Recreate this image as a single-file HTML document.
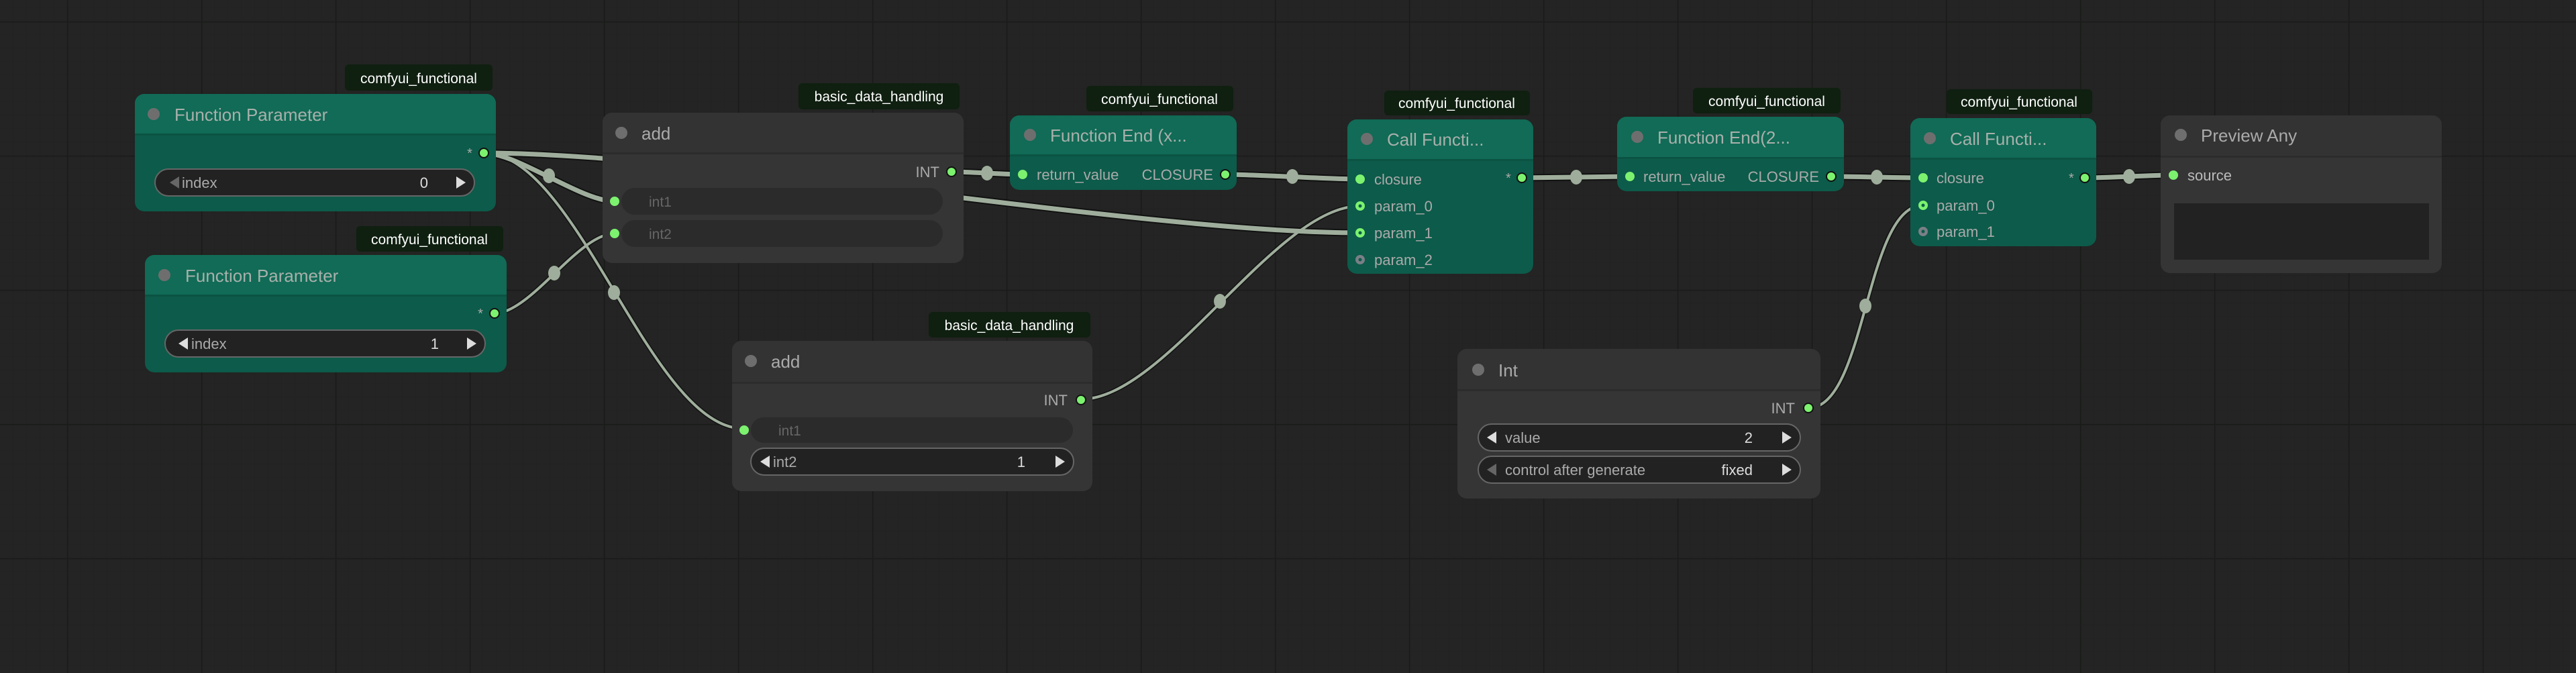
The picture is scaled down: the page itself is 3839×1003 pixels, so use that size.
<!DOCTYPE html>
<html><head><meta charset="utf-8"><style>
html,body{margin:0;padding:0;background:#222322;}
svg{display:block}
text{font-family:"Liberation Sans",sans-serif;}
</style></head><body>
<svg width="3839" height="1003" viewBox="0 0 3839 1003" xmlns="http://www.w3.org/2000/svg">
<defs>
<pattern id="minor" x="0" y="12" width="20" height="20" patternUnits="userSpaceOnUse">
<path d="M20 0V20M0 20H20" stroke="#1f201f" stroke-width="1" fill="none"/>
</pattern>
<pattern id="major" x="100" y="32" width="200" height="200" patternUnits="userSpaceOnUse">
<path d="M0 0V200M0 0H200" stroke="#1a1b1a" stroke-width="3" fill="none"/>
</pattern>
</defs>
<rect width="3839" height="1003" fill="#232423"/>
<rect width="3839" height="1003" fill="url(#minor)"/>
<rect width="3839" height="1003" fill="url(#major)"/>

<!-- links -->
<g fill="none" stroke-linecap="round">
<g stroke="#111" stroke-width="11">
<path d="M721 228 C771 228 866 300 916 300"/>
<path d="M721 228 C1049 228 1699 347 2027 347"/>
<path d="M1418 256 C1444 256 1498 260 1524 260"/>
<path d="M1826 260 C1876 260 1977 267 2027 267"/>
<path d="M2268 265 C2308 265 2389 263 2429 263"/>
<path d="M2729 263 C2769 263 2826 265 2866 265"/>
<path d="M3107 265 C3147 265 3199 261 3239 261"/>
</g>
<g stroke="#111" stroke-width="7">
<path d="M721 228 C862 228 968 639 1109 639"/>
<path d="M737 467 C791 467 862 348 916 348"/>
<path d="M1611 595 C1737 595 1901 307 2027 307"/>
<path d="M2695 608 C2782 608 2779 306 2866 306"/>
</g>
<g stroke="#9fae9c" stroke-width="7">
<path d="M721 228 C771 228 866 300 916 300"/>
<path d="M721 228 C1049 228 1699 347 2027 347"/>
<path d="M1418 256 C1444 256 1498 260 1524 260"/>
<path d="M1826 260 C1876 260 1977 267 2027 267"/>
<path d="M2268 265 C2308 265 2389 263 2429 263"/>
<path d="M2729 263 C2769 263 2826 265 2866 265"/>
<path d="M3107 265 C3147 265 3199 261 3239 261"/>
</g>
<g stroke="#9fae9c" stroke-width="4">
<path d="M721 228 C862 228 968 639 1109 639"/>
<path d="M737 467 C791 467 862 348 916 348"/>
<path d="M1611 595 C1737 595 1901 307 2027 307"/>
<path d="M2695 608 C2782 608 2779 306 2866 306"/>
</g>
</g>
<g fill="#9fae9c">
<ellipse cx="818" cy="262" rx="9" ry="11"/>
<ellipse cx="915" cy="436" rx="9" ry="11"/>
<ellipse cx="1374" cy="287" rx="9" ry="11"/>
<ellipse cx="826" cy="407" rx="9" ry="11"/>
<ellipse cx="1471" cy="258" rx="9" ry="11"/>
<ellipse cx="1818" cy="449" rx="9" ry="11"/>
<ellipse cx="1926" cy="263" rx="9" ry="11"/>
<ellipse cx="2349" cy="264" rx="9" ry="11"/>
<ellipse cx="2797" cy="264" rx="9" ry="11"/>
<ellipse cx="2780" cy="456" rx="9" ry="11"/>
<ellipse cx="3173" cy="263" rx="9" ry="11"/>
</g>

<!-- Function Parameter A -->
<rect x="514" y="96" width="220" height="39" rx="6" fill="#0f1f10"/>
<text x="624" y="124" font-size="21" fill="#fff" text-anchor="middle">comfyui_functional</text>
<rect x="201" y="140" width="538" height="175" rx="14" fill="#0d5b4a"/>
<path d="M201 200V154a14 14 0 0 1 14-14h510a14 14 0 0 1 14 14V200Z" fill="#116b56"/>
<rect x="201" y="199" width="538" height="3" fill="#0b5343"/>
<circle cx="229" cy="170" r="9" fill="#6e6e6e"/>
<text x="260" y="180" font-size="26" fill="#a8b0ab">Function Parameter</text>
<text x="700" y="235" font-size="20" fill="#aaa" text-anchor="middle">*</text>
<circle cx="721" cy="228" r="7" fill="#7cf26f" stroke="#111" stroke-width="2"/>
<rect x="231" y="252" width="476" height="40" rx="20" fill="#222" stroke="#666" stroke-width="2"/>
<path d="M253 272l14-9v18z" fill="#666"/>
<text x="271" y="280" font-size="22" fill="#aaa">index</text>
<text x="638" y="280" font-size="22" fill="#ddd" text-anchor="end">0</text>
<path d="M694 272l-14-9v18z" fill="#ddd"/>

<!-- Function Parameter B -->
<rect x="531" y="337" width="219" height="38" rx="6" fill="#0f1f10"/>
<text x="640" y="364" font-size="21" fill="#fff" text-anchor="middle">comfyui_functional</text>
<rect x="216" y="380" width="539" height="175" rx="14" fill="#0d5b4a"/>
<path d="M216 440V394a14 14 0 0 1 14-14h511a14 14 0 0 1 14 14V440Z" fill="#116b56"/>
<rect x="216" y="439" width="539" height="3" fill="#0b5343"/>
<circle cx="245" cy="410" r="9" fill="#6e6e6e"/>
<text x="276" y="420" font-size="26" fill="#a8b0ab">Function Parameter</text>
<text x="716" y="474" font-size="20" fill="#aaa" text-anchor="middle">*</text>
<circle cx="737" cy="467" r="7" fill="#7cf26f" stroke="#111" stroke-width="2"/>
<rect x="246" y="492" width="477" height="40" rx="20" fill="#222" stroke="#666" stroke-width="2"/>
<path d="M266 512l14-9v18z" fill="#ddd"/>
<text x="285" y="520" font-size="22" fill="#aaa">index</text>
<text x="654" y="520" font-size="22" fill="#ddd" text-anchor="end">1</text>
<path d="M710 512l-14-9v18z" fill="#ddd"/>

<!-- add 1 -->
<rect x="1190" y="124" width="240" height="39" rx="6" fill="#0f1f10"/>
<text x="1310" y="151" font-size="21" fill="#fff" text-anchor="middle">basic_data_handling</text>
<rect x="898" y="168" width="538" height="224" rx="14" fill="#353535"/>
<path d="M898 228V182a14 14 0 0 1 14-14h510a14 14 0 0 1 14 14V228Z" fill="#333"/>
<rect x="898" y="227" width="538" height="3" fill="#2c2c2c"/>
<circle cx="926" cy="198" r="9" fill="#6e6e6e"/>
<text x="956" y="208" font-size="26" fill="#aaa">add</text>
<text x="1400" y="264" font-size="22" fill="#aaa" text-anchor="end">INT</text>
<circle cx="1418" cy="256" r="7" fill="#7cf26f" stroke="#111" stroke-width="2"/>
<rect x="926" y="280" width="479" height="40" rx="20" fill="#2b2b2b"/>
<rect x="926" y="328" width="479" height="40" rx="20" fill="#2b2b2b"/>
<circle cx="916" cy="300" r="7" fill="#7cf26f"/>
<circle cx="916" cy="348" r="7" fill="#7cf26f"/>
<text x="967" y="308" font-size="21" fill="#666">int1</text>
<text x="967" y="356" font-size="21" fill="#666">int2</text>

<!-- add 2 -->
<rect x="1384" y="465" width="241" height="38" rx="6" fill="#0f1f10"/>
<text x="1504" y="492" font-size="21" fill="#fff" text-anchor="middle">basic_data_handling</text>
<rect x="1091" y="508" width="537" height="224" rx="14" fill="#353535"/>
<path d="M1091 570V522a14 14 0 0 1 14-14h509a14 14 0 0 1 14 14V570Z" fill="#333"/>
<rect x="1091" y="569" width="537" height="3" fill="#2c2c2c"/>
<circle cx="1119" cy="538" r="9" fill="#6e6e6e"/>
<text x="1149" y="548" font-size="26" fill="#aaa">add</text>
<text x="1591" y="604" font-size="22" fill="#aaa" text-anchor="end">INT</text>
<circle cx="1611" cy="596" r="7" fill="#7cf26f" stroke="#111" stroke-width="2"/>
<rect x="1119" y="622" width="480" height="38" rx="19" fill="#2b2b2b"/>
<circle cx="1109" cy="641" r="7" fill="#7cf26f"/>
<text x="1160" y="649" font-size="21" fill="#666">int1</text>
<rect x="1119" y="668" width="481" height="40" rx="20" fill="#222" stroke="#666" stroke-width="2"/>
<path d="M1133 688l14-9v18z" fill="#ddd"/>
<text x="1152" y="696" font-size="22" fill="#aaa">int2</text>
<text x="1528" y="696" font-size="22" fill="#ddd" text-anchor="end">1</text>
<path d="M1587 688l-14-9v18z" fill="#ddd"/>

<!-- Function End (x... -->
<rect x="1619" y="128" width="219" height="38" rx="6" fill="#0f1f10"/>
<text x="1728" y="155" font-size="21" fill="#fff" text-anchor="middle">comfyui_functional</text>
<rect x="1505" y="172" width="338" height="111" rx="14" fill="#0d5b4a"/>
<path d="M1505 231V186a14 14 0 0 1 14-14h310a14 14 0 0 1 14 14V231Z" fill="#116b56"/>
<rect x="1505" y="230" width="338" height="3" fill="#0b5343"/>
<circle cx="1535" cy="201" r="9" fill="#6e6e6e"/>
<text x="1565" y="211" font-size="26" fill="#a8b0ab">Function End (x...</text>
<circle cx="1524" cy="260" r="7" fill="#7cf26f"/>
<text x="1545" y="268" font-size="22" fill="#aaa">return_value</text>
<text x="1808" y="268" font-size="22" fill="#aaa" text-anchor="end">CLOSURE</text>
<circle cx="1826" cy="260" r="7" fill="#7cf26f" stroke="#111" stroke-width="2"/>

<!-- Call Functi 1 -->
<rect x="2063" y="135" width="217" height="37" rx="6" fill="#0f1f10"/>
<text x="2171" y="161" font-size="21" fill="#fff" text-anchor="middle">comfyui_functional</text>
<rect x="2008" y="178" width="277" height="230" rx="14" fill="#0d5b4a"/>
<path d="M2008 238V192a14 14 0 0 1 14-14h249a14 14 0 0 1 14 14V238Z" fill="#116b56"/>
<rect x="2008" y="237" width="277" height="3" fill="#0b5343"/>
<circle cx="2037" cy="207" r="9" fill="#6e6e6e"/>
<text x="2067" y="217" font-size="26" fill="#a8b0ab">Call Functi...</text>
<circle cx="2027" cy="267" r="7" fill="#7cf26f"/>
<circle cx="2027" cy="307" r="7" fill="#7cf26f"/><circle cx="2027" cy="307" r="2.5" fill="#0d5b4a"/>
<circle cx="2027" cy="347" r="7" fill="#7cf26f"/><circle cx="2027" cy="347" r="2.5" fill="#0d5b4a"/>
<circle cx="2027" cy="387" r="7" fill="#7a7f86"/><circle cx="2027" cy="387" r="2.5" fill="#0d5b4a"/>
<text x="2048" y="275" font-size="22" fill="#aaa">closure</text>
<text x="2048" y="315" font-size="22" fill="#aaa">param_0</text>
<text x="2048" y="355" font-size="22" fill="#aaa">param_1</text>
<text x="2048" y="395" font-size="22" fill="#aaa">param_2</text>
<text x="2244" y="272" font-size="20" fill="#aaa">*</text>
<circle cx="2268" cy="265" r="7" fill="#7cf26f" stroke="#111" stroke-width="2"/>

<!-- Function End(2... -->
<rect x="2523" y="131" width="220" height="38" rx="6" fill="#0f1f10"/>
<text x="2633" y="158" font-size="21" fill="#fff" text-anchor="middle">comfyui_functional</text>
<rect x="2410" y="174" width="338" height="111" rx="14" fill="#0d5b4a"/>
<path d="M2410 235V188a14 14 0 0 1 14-14h310a14 14 0 0 1 14 14V235Z" fill="#116b56"/>
<rect x="2410" y="234" width="338" height="3" fill="#0b5343"/>
<circle cx="2440" cy="204" r="9" fill="#6e6e6e"/>
<text x="2470" y="214" font-size="26" fill="#a8b0ab">Function End(2...</text>
<circle cx="2429" cy="263" r="7" fill="#7cf26f"/>
<text x="2449" y="271" font-size="22" fill="#aaa">return_value</text>
<text x="2711" y="271" font-size="22" fill="#aaa" text-anchor="end">CLOSURE</text>
<circle cx="2729" cy="263" r="7" fill="#7cf26f" stroke="#111" stroke-width="2"/>

<!-- Call Functi 2 -->
<rect x="2901" y="133" width="217" height="37" rx="6" fill="#0f1f10"/>
<text x="3009" y="159" font-size="21" fill="#fff" text-anchor="middle">comfyui_functional</text>
<rect x="2847" y="176" width="277" height="191" rx="14" fill="#0d5b4a"/>
<path d="M2847 236V190a14 14 0 0 1 14-14h249a14 14 0 0 1 14 14V236Z" fill="#116b56"/>
<rect x="2847" y="235" width="277" height="3" fill="#0b5343"/>
<circle cx="2876" cy="206" r="9" fill="#6e6e6e"/>
<text x="2906" y="216" font-size="26" fill="#a8b0ab">Call Functi...</text>
<circle cx="2866" cy="265" r="7" fill="#7cf26f"/>
<circle cx="2866" cy="306" r="7" fill="#7cf26f"/><circle cx="2866" cy="306" r="2.5" fill="#0d5b4a"/>
<circle cx="2866" cy="345" r="7" fill="#7a7f86"/><circle cx="2866" cy="345" r="2.5" fill="#0d5b4a"/>
<text x="2886" y="273" font-size="22" fill="#aaa">closure</text>
<text x="2886" y="314" font-size="22" fill="#aaa">param_0</text>
<text x="2886" y="353" font-size="22" fill="#aaa">param_1</text>
<text x="3083" y="272" font-size="20" fill="#aaa">*</text>
<circle cx="3107" cy="265" r="7" fill="#7cf26f" stroke="#111" stroke-width="2"/>

<!-- Preview Any -->
<rect x="3220" y="172" width="419" height="235" rx="14" fill="#353535"/>
<path d="M3220 233V186a14 14 0 0 1 14-14h391a14 14 0 0 1 14 14V233Z" fill="#333"/>
<rect x="3220" y="232" width="419" height="3" fill="#2c2c2c"/>
<circle cx="3250" cy="201" r="9" fill="#6e6e6e"/>
<text x="3280" y="211" font-size="26" fill="#aaa">Preview Any</text>
<circle cx="3239" cy="261" r="7" fill="#7cf26f"/>
<text x="3260" y="269" font-size="22" fill="#bbb">source</text>
<rect x="3240" y="303" width="380" height="84" fill="#222"/>

<!-- Int -->
<rect x="2172" y="520" width="541" height="223" rx="14" fill="#353535"/>
<path d="M2172 581V534a14 14 0 0 1 14-14h513a14 14 0 0 1 14 14V581Z" fill="#333"/>
<rect x="2172" y="580" width="541" height="3" fill="#2c2c2c"/>
<circle cx="2203" cy="551" r="9" fill="#6e6e6e"/>
<text x="2233" y="561" font-size="26" fill="#aaa">Int</text>
<text x="2675" y="616" font-size="22" fill="#aaa" text-anchor="end">INT</text>
<circle cx="2695" cy="608" r="7" fill="#7cf26f" stroke="#111" stroke-width="2"/>
<rect x="2203" y="632" width="480" height="40" rx="20" fill="#222" stroke="#666" stroke-width="2"/>
<path d="M2216 652l14-9v18z" fill="#ddd"/>
<text x="2243" y="660" font-size="22" fill="#aaa">value</text>
<text x="2612" y="660" font-size="22" fill="#ddd" text-anchor="end">2</text>
<path d="M2670 652l-14-9v18z" fill="#ddd"/>
<rect x="2203" y="680" width="480" height="40" rx="20" fill="#222" stroke="#666" stroke-width="2"/>
<path d="M2216 700l14-9v18z" fill="#666"/>
<text x="2243" y="708" font-size="22" fill="#aaa">control after generate</text>
<text x="2612" y="708" font-size="22" fill="#ddd" text-anchor="end">fixed</text>
<path d="M2670 700l-14-9v18z" fill="#ddd"/>
</svg>
</body></html>
